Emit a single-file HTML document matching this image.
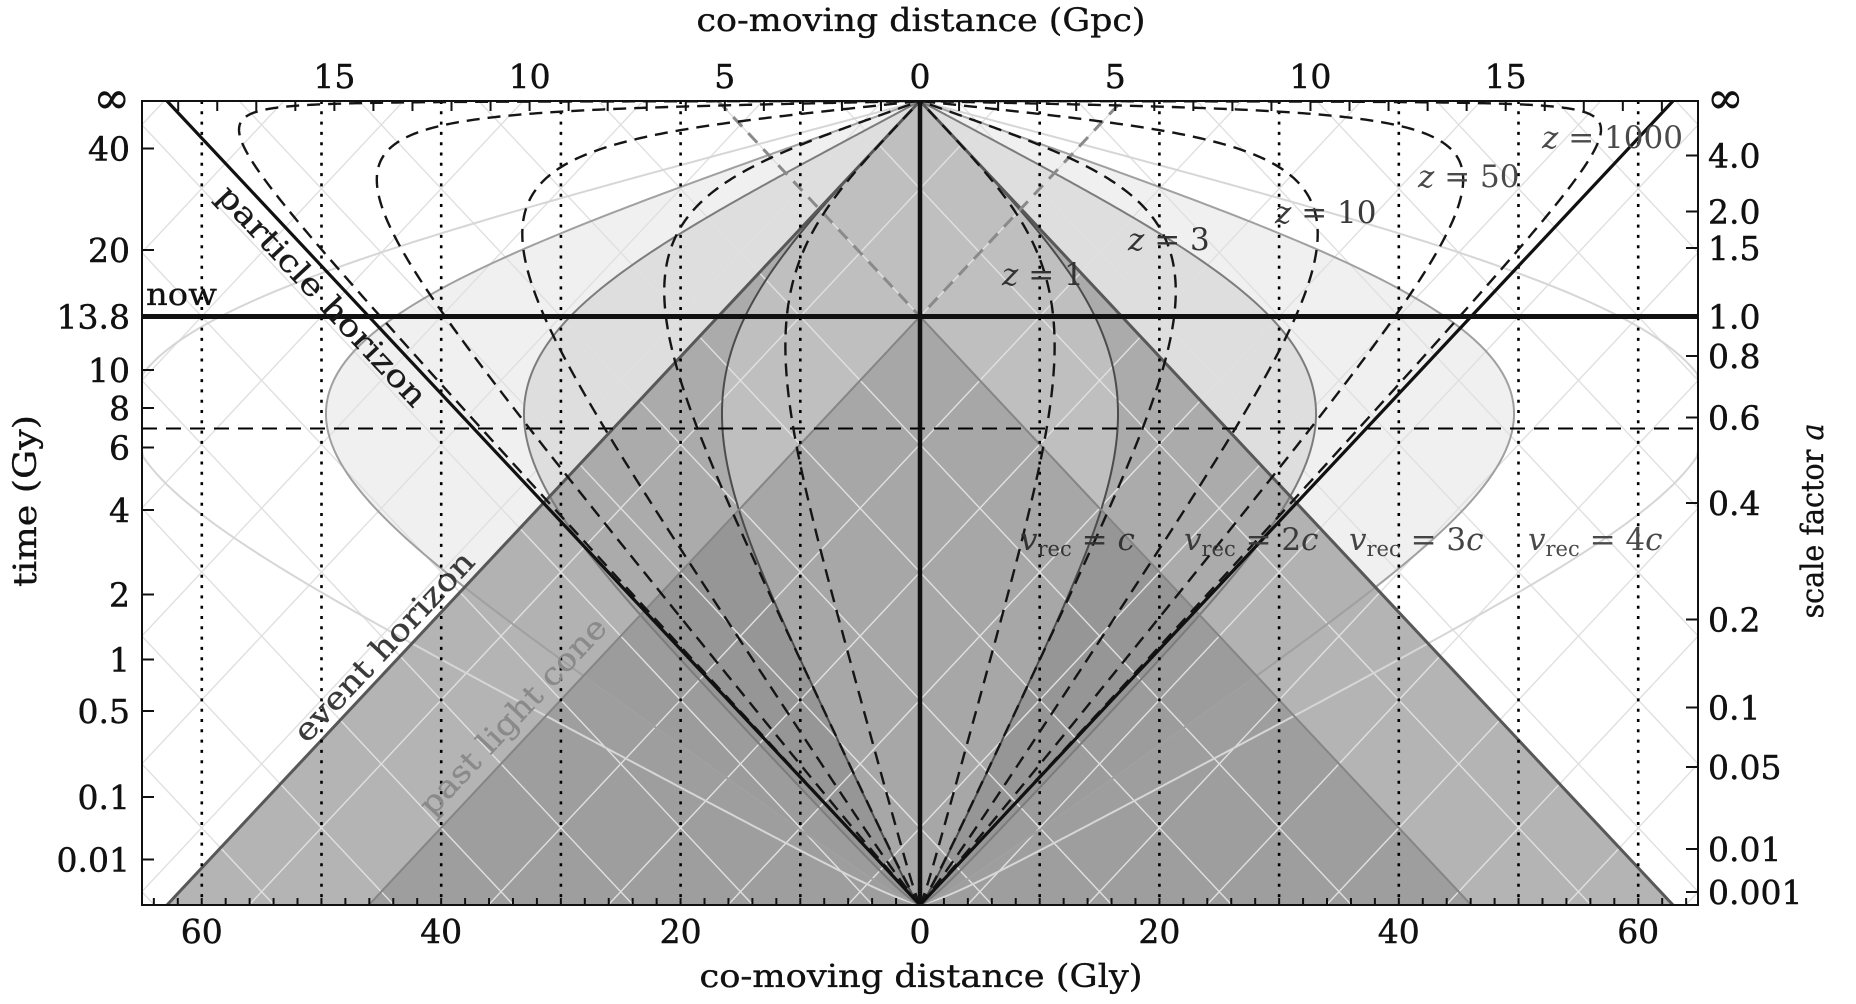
<!DOCTYPE html>
<html><head><meta charset="utf-8">
<style>
html,body{margin:0;padding:0;background:#fff;width:1856px;height:1004px;overflow:hidden;}
svg{display:block;overflow:hidden;}
text{font-family:"DejaVu Serif","Liberation Serif",serif;}
</style></head>
<body>
<svg id="chart" xmlns="http://www.w3.org/2000/svg" width="1856" height="1004" viewBox="0 0 1856 1004">
<defs>
<clipPath id="pc"><rect x="142" y="101" width="1556" height="804"/></clipPath>
</defs>
<rect x="0" y="0" width="1856" height="1004" fill="#fff"/>
<g clip-path="url(#pc)">
 <polygon points="920,101 167,905 1673,905" fill="#b4b4b4"/>
 <g id="lensfill"></g>
 <polygon points="920,316.5 368.8,905 1471.2,905" fill="#000" fill-opacity="0.12"/>
 <g id="lattice" stroke="#e0e0e0" stroke-width="1.4" fill="none"></g>
 <g id="lensline" fill="none" stroke-width="2"></g>
 <polyline points="167,905 920,101 1673,905" fill="none" stroke="#585858" stroke-width="3"/>
 <polyline points="368.8,905 920,316.5 1471.2,905" fill="none" stroke="#858585" stroke-width="2"/>
 <polyline points="718.2,101 920,316.5 1121.8,101" fill="none" stroke="#8a8a8a" stroke-width="3" stroke-dasharray="13 9"/>
 <g stroke="#000" stroke-width="2.6" stroke-dasharray="3 7.3">
  <line x1="201.8" y1="101" x2="201.8" y2="905"/>
  <line x1="321.5" y1="101" x2="321.5" y2="905"/>
  <line x1="441.2" y1="101" x2="441.2" y2="905"/>
  <line x1="560.9" y1="101" x2="560.9" y2="905"/>
  <line x1="680.6" y1="101" x2="680.6" y2="905"/>
  <line x1="800.3" y1="101" x2="800.3" y2="905"/>
  <line x1="1039.7" y1="101" x2="1039.7" y2="905"/>
  <line x1="1159.4" y1="101" x2="1159.4" y2="905"/>
  <line x1="1279.1" y1="101" x2="1279.1" y2="905"/>
  <line x1="1398.8" y1="101" x2="1398.8" y2="905"/>
  <line x1="1518.5" y1="101" x2="1518.5" y2="905"/>
  <line x1="1638.2" y1="101" x2="1638.2" y2="905"/>
 </g>
 <line x1="142" y1="428.5" x2="1698" y2="428.5" stroke="#000" stroke-width="2" stroke-dasharray="15 9"/>
 <g id="zc" fill="none" stroke="#151515" stroke-width="2.4" stroke-dasharray="13 8"></g>
 <polyline points="167,101 920,905 1673,101" fill="none" stroke="#111" stroke-width="3.2"/>
 <line x1="920" y1="101" x2="920" y2="905" stroke="#111" stroke-width="4.5"/>
 <line x1="142" y1="316.5" x2="1698" y2="316.5" stroke="#111" stroke-width="5"/>
</g>

<!-- frame -->
<rect x="142" y="101" width="1556" height="804" fill="none" stroke="#111" stroke-width="2"/>
<line x1="152.85" y1="901.5" x2="1698" y2="901.5" stroke="#111" stroke-width="7" stroke-dasharray="2 21.942"/>
<line x1="177.2" y1="106" x2="1698" y2="106" stroke="#111" stroke-width="10" stroke-dasharray="2 37.044"/>
<g stroke="#111" stroke-width="2">
 <line x1="142" y1="148.5" x2="154" y2="148.5"/>
 <line x1="142" y1="250" x2="154" y2="250"/>
 <line x1="142" y1="316.5" x2="154" y2="316.5"/>
 <line x1="142" y1="370" x2="154" y2="370"/>
 <line x1="142" y1="408" x2="154" y2="408"/>
 <line x1="142" y1="447.5" x2="154" y2="447.5"/>
 <line x1="142" y1="510" x2="154" y2="510"/>
 <line x1="142" y1="594.5" x2="154" y2="594.5"/>
 <line x1="142" y1="659.5" x2="154" y2="659.5"/>
 <line x1="142" y1="711" x2="154" y2="711"/>
 <line x1="142" y1="797" x2="154" y2="797"/>
 <line x1="142" y1="859.5" x2="154" y2="859.5"/>
 <line x1="1686" y1="155.5" x2="1698" y2="155.5"/>
 <line x1="1686" y1="211.5" x2="1698" y2="211.5"/>
 <line x1="1686" y1="248" x2="1698" y2="248"/>
 <line x1="1686" y1="316.5" x2="1698" y2="316.5"/>
 <line x1="1686" y1="356" x2="1698" y2="356"/>
 <line x1="1686" y1="417.5" x2="1698" y2="417.5"/>
 <line x1="1686" y1="503" x2="1698" y2="503"/>
 <line x1="1686" y1="619.5" x2="1698" y2="619.5"/>
 <line x1="1686" y1="707.5" x2="1698" y2="707.5"/>
 <line x1="1686" y1="767" x2="1698" y2="767"/>
 <line x1="1686" y1="849" x2="1698" y2="849"/>
 <line x1="1686" y1="892" x2="1698" y2="892"/>
</g>

<g font-size="33" fill="#111" stroke="#111" stroke-width="0.45" text-anchor="end">
 <text x="130" y="113" font-size="44">∞</text>
 <text x="130" y="160.5">40</text>
 <text x="130" y="262">20</text>
 <text x="130" y="328.5">13.8</text>
 <text x="130" y="382">10</text>
 <text x="130" y="420">8</text>
 <text x="130" y="459.5">6</text>
 <text x="130" y="522">4</text>
 <text x="130" y="606.5">2</text>
 <text x="130" y="671.5">1</text>
 <text x="130" y="723">0.5</text>
 <text x="130" y="809">0.1</text>
 <text x="130" y="871.5">0.01</text>
</g>
<g font-size="33" fill="#111" stroke="#111" stroke-width="0.45" text-anchor="start">
 <text x="1707" y="113" font-size="44">∞</text>
 <text x="1708" y="167.5">4.0</text>
 <text x="1708" y="223.5">2.0</text>
 <text x="1708" y="260">1.5</text>
 <text x="1708" y="328.5">1.0</text>
 <text x="1708" y="368">0.8</text>
 <text x="1708" y="429.5">0.6</text>
 <text x="1708" y="515">0.4</text>
 <text x="1708" y="631.5">0.2</text>
 <text x="1708" y="719.5">0.1</text>
 <text x="1708" y="779">0.05</text>
 <text x="1708" y="861">0.01</text>
 <text x="1708" y="904">0.001</text>
</g>
<g font-size="33" fill="#111" stroke="#111" stroke-width="0.45" text-anchor="middle">
 <text x="201.8" y="943">60</text>
 <text x="441.2" y="943">40</text>
 <text x="680.6" y="943">20</text>
 <text x="920" y="943">0</text>
 <text x="1159.4" y="943">20</text>
 <text x="1398.8" y="943">40</text>
 <text x="1638.2" y="943">60</text>
</g>
<g font-size="33" fill="#111" stroke="#111" stroke-width="0.45" text-anchor="middle">
 <text x="334.4" y="88">15</text>
 <text x="529.6" y="88">10</text>
 <text x="724.8" y="88">5</text>
 <text x="920" y="88">0</text>
 <text x="1115.2" y="88">5</text>
 <text x="1310.4" y="88">10</text>
 <text x="1505.6" y="88">15</text>
</g>

<g fill="#111" stroke="#111" stroke-width="0.35">
<text x="921" y="31" font-size="32" text-anchor="middle" textLength="449" lengthAdjust="spacingAndGlyphs">co-moving distance (Gpc)</text>
<text x="921" y="987" font-size="32" text-anchor="middle" textLength="443" lengthAdjust="spacingAndGlyphs">co-moving distance (Gly)</text>
<text transform="translate(36,501) rotate(-90)" font-size="32" text-anchor="middle" textLength="172" lengthAdjust="spacingAndGlyphs">time (Gy)</text>
<text transform="translate(1823,521) rotate(-90)" font-size="31" text-anchor="middle" textLength="195" lengthAdjust="spacingAndGlyphs">scale factor <tspan font-style="italic">a</tspan></text>
<text x="146" y="305" font-size="31" textLength="71" lengthAdjust="spacingAndGlyphs">now</text>
</g>
<text transform="translate(215.2,197.3) rotate(46.87)" font-size="31" fill="#1a1a1a" stroke="#1a1a1a" stroke-width="0.3" textLength="290" lengthAdjust="spacingAndGlyphs">particle horizon</text>
<text transform="translate(306.9,744.2) rotate(-46.87)" font-size="31" fill="#3a3a3a" stroke="#3a3a3a" stroke-width="0.3" textLength="248" lengthAdjust="spacingAndGlyphs">event horizon</text>
<text transform="translate(432.4,817.4) rotate(-46.87)" font-size="31" fill="#8a8a8a" stroke="#8a8a8a" stroke-width="0.3" textLength="258" lengthAdjust="spacingAndGlyphs">past light cone</text>

<g font-size="31">
 <text x="1002" y="285" fill="#333"><tspan font-style="italic">z</tspan> = 1</text>
 <text x="1128" y="250" fill="#333"><tspan font-style="italic">z</tspan> = 3</text>
 <text x="1275" y="223" fill="#3a3a3a"><tspan font-style="italic">z</tspan> = 10</text>
 <text x="1418" y="187" fill="#4a4a4a"><tspan font-style="italic">z</tspan> = 50</text>
 <text x="1542" y="148" fill="#4a4a4a"><tspan font-style="italic">z</tspan> = 1000</text>
</g>
<g font-size="31">
 <text x="1020" y="550" fill="#333"><tspan font-style="italic">v</tspan><tspan font-size="21" dy="6">rec</tspan><tspan dy="-6"> = </tspan><tspan font-style="italic">c</tspan></text>
 <text x="1184" y="550" fill="#3a3a3a"><tspan font-style="italic">v</tspan><tspan font-size="21" dy="6">rec</tspan><tspan dy="-6"> = 2</tspan><tspan font-style="italic">c</tspan></text>
 <text x="1349" y="550" fill="#444"><tspan font-style="italic">v</tspan><tspan font-size="21" dy="6">rec</tspan><tspan dy="-6"> = 3</tspan><tspan font-style="italic">c</tspan></text>
 <text x="1528" y="550" fill="#4a4a4a"><tspan font-style="italic">v</tspan><tspan font-size="21" dy="6">rec</tspan><tspan dy="-6"> = 4</tspan><tspan font-style="italic">c</tspan></text>
</g>
</svg>
<script>
(function(){
var NS='http://www.w3.org/2000/svg';
var Om=0.31,Or=9.1e-5,OL=1-Om-Or;
function f(a){return Or+Om*a+OL*a*a*a*a;}
var N=8000,l0=Math.log(1e-9),l1=Math.log(1e6),dl=(l1-l0)/N;
var ET=new Float64Array(N+1),a0=Math.exp(l0);
ET[0]=a0/Math.sqrt(Or);
var prev=a0/Math.sqrt(f(a0));
for(var i=1;i<=N;i++){var a=Math.exp(l0+i*dl),g=a/Math.sqrt(f(a));ET[i]=ET[i-1]+0.5*(g+prev)*dl;prev=g;}
var sOL=Math.sqrt(OL);
var EI=ET[N]+1/(sOL*Math.exp(l1));
function eta(a){
  if(a<=a0)return a/Math.sqrt(Or);
  var t=(Math.log(a)-l0)/dl;
  if(t>=N)return EI-1/(sOL*a);
  var k=Math.floor(t),fr=t-k;return ET[k]+(ET[k+1]-ET[k])*fr;
}
var sx=753/EI,sy=804/EI;
function Y(e){return 905-e*sy;}
function cx(x){return Math.max(142,Math.min(1698,x));}
function mk(parent,d,attrs){var p=document.createElementNS(NS,'path');p.setAttribute('d',d);for(var k in attrs)p.setAttribute(k,attrs[k]);document.getElementById(parent).appendChild(p);}
function lensPath(n){
 var pts=[],M=900,la0=Math.log(1e-6),la1=Math.log(1e5);
 for(var i=0;i<=M;i++){var a=Math.exp(la0+(la1-la0)*i/M);pts.push([n*a/Math.sqrt(f(a))*sx,Y(eta(a))]);}
 var d='M920,905';
 for(i=0;i<pts.length;i++)d+='L'+cx(920+pts[i][0]).toFixed(2)+','+pts[i][1].toFixed(2);
 d+='L920,101';
 for(i=pts.length-1;i>=0;i--)d+='L'+cx(920-pts[i][0]).toFixed(2)+','+pts[i][1].toFixed(2);
 return d+'Z';
}
mk('lensfill',lensPath(3),{fill:'rgb(168,168,168)','fill-opacity':'0.173'});
mk('lensfill',lensPath(2),{fill:'rgb(147,147,147)','fill-opacity':'0.194'});
mk('lensfill',lensPath(1),{fill:'rgb(239,239,239)','fill-opacity':'0.3'});
mk('lensline',lensPath(4),{stroke:'#d6d6d6'});
mk('lensline',lensPath(3),{stroke:'#a0a0a0'});
mk('lensline',lensPath(2),{stroke:'#7c7c7c'});
mk('lensline',lensPath(1),{stroke:'#4c4c4c'});
function zPath(z,side){
 var d='M920,905',M=1400,la0=Math.log(1e-7),la1=Math.log(1e8);
 for(var i=0;i<=M;i++){var a=Math.exp(la0+(la1-la0)*i/M);var c=eta(a)-eta(a/(1+z));
  d+='L'+cx(920+side*c*sx).toFixed(2)+','+Y(eta(a)).toFixed(2);}
 return d+'L920,101';
}
[1,3,10,50,1000].forEach(function(z){mk('zc',zPath(z,1),{});mk('zc',zPath(z,-1),{});});
/* lattice clipped to plot rect (Liang-Barsky) */
var XL=142,XR=1698,YT=101,YB=905;
function clip(x1,y1,x2,y2){
 var dx=x2-x1,dy=y2-y1,t0=0,t1=1;
 var p=[-dx,dx,-dy,dy],q=[x1-XL,XR-x1,y1-YT,YB-y1];
 for(var i=0;i<4;i++){
  if(p[i]===0){if(q[i]<0)return null;}
  else{var r=q[i]/p[i];if(p[i]<0){if(r>t1)return null;if(r>t0)t0=r;}else{if(r<t0)return null;if(r<t1)t1=r;}}
 }
 return [x1+t0*dx,y1+t0*dy,x1+t1*dx,y1+t1*dy];
}
var gx=753/62.9,gy=804/62.9,yN=316.5,d='';
function addSeg(x1,y1,x2,y2){var c=clip(x1,y1,x2,y2);if(c&&(Math.abs(c[2]-c[0])>0.5))d+='M'+c[0].toFixed(2)+','+c[1].toFixed(2)+'L'+c[2].toFixed(2)+','+c[3].toFixed(2);}
for(var k=-15;k<=15;k++){var x0=920+10*k*gx;
 addSeg(x0-80*gx,yN+80*gy,x0+80*gx,yN-80*gy);
 addSeg(x0-80*gx,yN-80*gy,x0+80*gx,yN+80*gy);}
mk('lattice',d,{});
})();
</script>
</body></html>
